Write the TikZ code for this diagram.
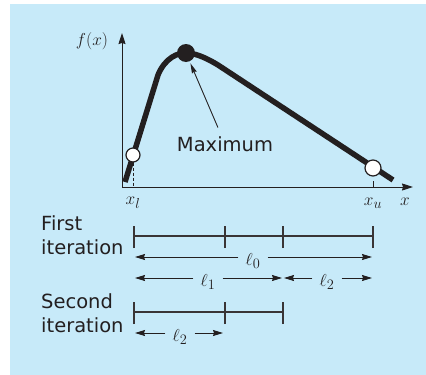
\documentclass[tikz,border=0pt]{standalone}
\usepackage{fontspec}
\setmainfont{DejaVu Sans}
\usetikzlibrary{arrows.meta}
\definecolor{bg}{RGB}{199,234,249}
\definecolor{ink}{RGB}{35,31,32}
\begin{document}
\begin{tikzpicture}[x=1pt,y=-1pt,
  axis/.style={line width=1pt, draw=ink, {Stealth[length=11pt,width=7pt,inset=1pt]}-{Stealth[length=11pt,width=7pt,inset=1pt]}},
  curve/.style={line width=5.5pt, draw=ink, line join=round},
  bar/.style={line width=1.2pt, draw=ink!90},
  dimarrow/.style={line width=1pt, draw=ink, -{Stealth[length=10pt,width=6pt,inset=1pt]}},
  ptr/.style={line width=0.9pt, draw=ink, -{Stealth[length=10pt,width=5pt,inset=1pt]}},
  lab/.style={font=\fontsize{19.5}{23}\selectfont, text=ink, inner sep=0pt},
  mlab/.style={font=\fontsize{19}{22}\selectfont, text=ink, inner sep=0pt},
  dlab/.style={mlab, inner xsep=7pt, anchor=base},
  opendot/.style={circle, fill=white, draw=ink, line width=1.2pt, inner sep=0pt},
]
\useasboundingbox (0,0) rectangle (426,375);
\fill[bg] (10,4) rectangle (426,375);

% axes
\coordinate (O) at (122,187);
\coordinate (ytip) at (122,33);
\coordinate (xtip) at (413,187);
\draw[axis] (ytip) -- (O) -- (xtip);

% curve
\draw[curve] (125,182) -- (158,75) .. controls (165,58) and (178,52) .. (188,53)
  .. controls (198,54) and (208,59) .. (218,65) -- (393,180);

% points
\node[opendot, minimum size=14pt] (pl) at (133,155) {};
\node[opendot, minimum size=16pt] (pu) at (373,168) {};
\node[circle, fill=ink, inner sep=0pt, minimum size=18pt] (mx) at (186,53) {};

\draw[ink, line width=0.8pt, dash pattern=on 3pt off 2pt] (pl) -- (pl |- O);
\draw[ink, line width=0.8pt] (pu |- O) -- ++(0,-6);

% labels on axes
\node[mlab] (fx) at (92,41) {$f(x)$};
\node[mlab] (xl) at (133,203) {$x_l$};
\node[mlab] (xu) at (373,203) {$x_u$};
\node[mlab] (xx) at (405,202) {$x$};

% maximum
\node[lab, outer sep=9pt] (maxlab) at (225,144) {Maximum};
\draw[ptr, shorten >=2pt] (maxlab) -- (mx);

% iteration texts
\node[lab, anchor=base west] (t1) at (41,230) {First};
\node[lab, anchor=base west] (t2) at (41,254) {iteration};
\node[lab, anchor=base west] (t3) at (41,308) {Second};
\node[lab, anchor=base west] (t4) at (41,332) {iteration};

% first bar
\coordinate (b1a) at (134,236);
\coordinate (b1b) at (225,236);
\coordinate (b1c) at (283,236);
\coordinate (b1d) at (373,236);
\draw[bar] (b1a) -- (b1d);
\foreach \p in {b1a,b1b,b1c,b1d} \draw[bar] ([yshift=-12pt]\p) -- ([yshift=10pt]\p);

% second bar
\coordinate (b2a) at (134,312);
\coordinate (b2b) at (225,312);
\coordinate (b2c) at (283,312);
\draw[bar] (b2a) -- (b2c);
\foreach \p in {b2a,b2b,b2c} \draw[bar] ([yshift=-12pt]\p) -- ([yshift=10pt]\p);

% dimension arrows
\coordinate (a0l) at (135,257);
\coordinate (a0r) at (372,257);
\node[dlab] (l0) at (253,265) {$\ell_0$};
\draw[dimarrow] (l0.west |- a0l) -- (a0l);
\draw[dimarrow] (l0.east |- a0r) -- (a0r);

\coordinate (a1l) at (135,278);
\coordinate (a1r) at (282,278);
\node[dlab] (l1) at (208,286) {$\ell_1$};
\draw[dimarrow] (l1.west |- a1l) -- (a1l);
\draw[dimarrow] (l1.east |- a1r) -- (a1r);

\coordinate (a2l) at (284,278);
\coordinate (a2r) at (372,278);
\node[dlab] (l2) at (327,286) {$\ell_2$};
\draw[dimarrow] (l2.west |- a2l) -- (a2l);
\draw[dimarrow] (l2.east |- a2r) -- (a2r);

\coordinate (a3l) at (135,333);
\coordinate (a3r) at (223,333);
\node[dlab] (l3) at (180,341) {$\ell_2$};
\draw[dimarrow] (l3.west |- a3l) -- (a3l);
\draw[dimarrow] (l3.east |- a3r) -- (a3r);
\end{tikzpicture}
\end{document}
